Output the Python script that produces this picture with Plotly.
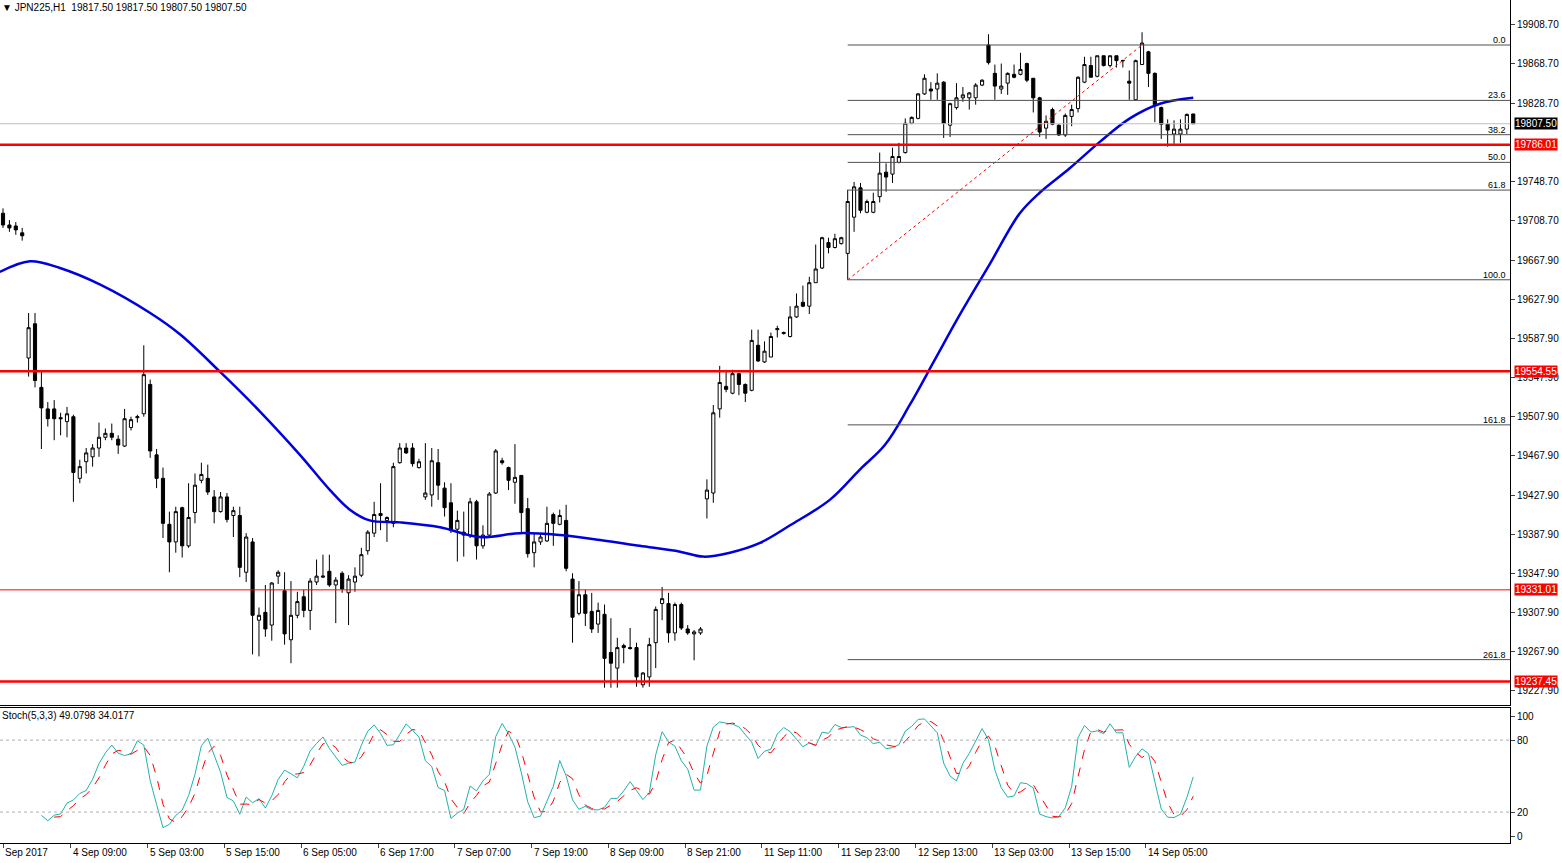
import pandas as pd
import numpy as np
import plotly.graph_objects as go

# JPN225 H1 candles (open, high, low, close)
opens = [19716, 19704, 19703, 19696, 19568, 19603, 19538, 19516, 19516, 19507,
         19503, 19508, 19445, 19462, 19467, 19476, 19487, 19491, 19485, 19478,
         19497, 19507, 19511, 19541, 19469, 19445, 19398, 19380, 19415, 19376,
         19410, 19443, 19445, 19426, 19411, 19426, 19407, 19407, 19349, 19380,
         19300, 19308, 19295, 19345, 19330, 19280, 19305, 19324, 19310, 19339,
         19344, 19350, 19336, 19348, 19328, 19339, 19346, 19371, 19389, 19409,
         19402, 19399, 19461, 19476, 19476, 19456, 19426, 19428, 19461, 19435,
         19420, 19393, 19390, 19387, 19421, 19376, 19387, 19430, 19463, 19456,
         19441, 19448, 19414, 19369, 19380, 19381, 19408, 19398, 19402, 19342,
         19307, 19326, 19309, 19296, 19306, 19267, 19251, 19274, 19272, 19272,
         19234, 19242, 19277, 19317, 19317, 19287, 19316, 19291, 19286, 19287,
         19424, 19430, 19516, 19539, 19532, 19552, 19541, 19535, 19581, 19564,
         19569, 19597, 19593, 19590, 19610, 19625, 19621, 19645, 19660, 19686,
         19681, 19685, 19675, 19712, 19742, 19717, 19717, 19733, 19758, 19756,
         19768, 19778, 19808, 19813, 19838, 19843, 19843, 19850, 19806, 19824,
         19834, 19834, 19834, 19847, 19888, 19859, 19843, 19849, 19858, 19858,
         19869, 19854, 19834, 19803, 19822, 19806, 19796, 19815, 19823, 19850,
         19867, 19856, 19877, 19867, 19877, 19872, 19851, 19832, 19868, 19881,
         19859, 19824, 19807, 19797, 19797, 19802, 19817.5]
highs = [19721, 19709, 19707, 19701, 19614, 19614, 19554, 19523, 19525, 19512,
         19518, 19510, 19464, 19476, 19480, 19502, 19496, 19501, 19489, 19516,
         19508, 19510, 19581, 19546, 19475, 19456, 19411, 19416, 19416, 19440,
         19450, 19461, 19459, 19433, 19431, 19430, 19416, 19416, 19389, 19384,
         19313, 19336, 19339, 19351, 19349, 19340, 19329, 19331, 19343, 19362,
         19367, 19367, 19344, 19350, 19346, 19354, 19374, 19392, 19421, 19440,
         19406, 19461, 19481, 19481, 19481, 19465, 19481, 19476, 19475, 19441,
         19440, 19412, 19411, 19425, 19423, 19397, 19431, 19475, 19466, 19457,
         19480, 19448, 19425, 19389, 19389, 19416, 19410, 19413, 19418, 19348,
         19340, 19331, 19328, 19318, 19316, 19302, 19282, 19276, 19292, 19277,
         19247, 19282, 19314, 19334, 19328, 19318, 19318, 19295, 19290, 19293,
         19444, 19520, 19560, 19556, 19556, 19553, 19542, 19597, 19597, 19585,
         19594, 19601, 19595, 19621, 19634, 19642, 19651, 19684, 19692, 19691,
         19695, 19692, 19740, 19748, 19747, 19730, 19737, 19778, 19767, 19783,
         19788, 19813, 19815, 19839, 19858, 19850, 19859, 19851, 19829, 19849,
         19845, 19840, 19849, 19853, 19899, 19868, 19869, 19860, 19868, 19880,
         19870, 19854, 19835, 19816, 19824, 19807, 19818, 19827, 19856, 19876,
         19876, 19877, 19877, 19877, 19877, 19873, 19862, 19873, 19901, 19882,
         19860, 19825, 19812, 19811, 19812, 19818, 19817.5]
lows = [19701, 19697, 19694, 19688, 19549, 19538, 19475, 19498, 19484, 19489,
        19487, 19421, 19440, 19450, 19457, 19467, 19484, 19484, 19470, 19477,
        19494, 19502, 19508, 19466, 19435, 19384, 19349, 19369, 19364, 19374,
        19399, 19440, 19428, 19399, 19410, 19400, 19385, 19344, 19339, 19265,
        19263, 19283, 19279, 19337, 19275, 19256, 19302, 19303, 19290, 19336,
        19343, 19334, 19297, 19328, 19295, 19329, 19344, 19367, 19385, 19392,
        19380, 19395, 19460, 19470, 19457, 19455, 19423, 19416, 19423, 19406,
        19389, 19360, 19365, 19384, 19362, 19373, 19385, 19429, 19459, 19433,
        19419, 19389, 19364, 19354, 19377, 19380, 19376, 19397, 19350, 19277,
        19305, 19294, 19287, 19287, 19231, 19231, 19231, 19256, 19270, 19232,
        19231, 19232, 19251, 19300, 19277, 19279, 19290, 19285, 19259, 19285,
        19404, 19420, 19507, 19533, 19531, 19530, 19523, 19534, 19564, 19563,
        19569, 19589, 19592, 19589, 19609, 19620, 19613, 19645, 19659, 19675,
        19680, 19684, 19648, 19697, 19716, 19716, 19716, 19727, 19738, 19747,
        19767, 19777, 19807, 19812, 19837, 19832, 19832, 19793, 19794, 19822,
        19830, 19822, 19827, 19846, 19868, 19832, 19838, 19837, 19854, 19857,
        19850, 19819, 19794, 19792, 19806, 19795, 19794, 19805, 19819, 19849,
        19855, 19855, 19866, 19865, 19865, 19865, 19832, 19831, 19868, 19845,
        19809, 19792, 19784, 19787, 19788, 19797, 19807.5]
closes = [19704, 19701, 19699, 19693, 19599, 19545, 19517, 19506, 19506, 19506,
          19511, 19451, 19457, 19471, 19476, 19487, 19491, 19487, 19479, 19506,
          19505, 19508, 19551, 19473, 19445, 19399, 19380, 19411, 19376, 19405,
          19438, 19449, 19431, 19411, 19426, 19403, 19412, 19354, 19385, 19305,
          19305, 19291, 19338, 19349, 19286, 19305, 19319, 19310, 19340, 19345,
          19345, 19336, 19341, 19332, 19342, 19345, 19367, 19390, 19408, 19407,
          19405, 19457, 19476, 19471, 19460, 19462, 19430, 19463, 19438, 19415,
          19392, 19402, 19387, 19421, 19376, 19387, 19429, 19473, 19461, 19443,
          19446, 19410, 19368, 19380, 19385, 19399, 19399, 19407, 19353, 19303,
          19326, 19307, 19291, 19310, 19261, 19256, 19272, 19272, 19271, 19242,
          19246, 19275, 19311, 19322, 19287, 19316, 19292, 19287, 19288, 19291,
          19433, 19512, 19543, 19536, 19552, 19541, 19532, 19586, 19565, 19575,
          19590, 19598, 19594, 19610, 19621, 19621, 19645, 19659, 19691, 19681,
          19690, 19691, 19728, 19743, 19719, 19728, 19728, 19757, 19753, 19774,
          19774, 19808, 19814, 19838, 19854, 19841, 19849, 19808, 19828, 19834,
          19837, 19839, 19847, 19852, 19870, 19846, 19846, 19859, 19855, 19863,
          19852, 19834, 19799, 19810, 19807, 19796, 19816, 19822, 19855, 19868,
          19855, 19877, 19867, 19877, 19872, 19872, 19849, 19872, 19890, 19859,
          19827, 19807, 19801, 19802, 19802, 19817, 19807.5]

# moving average (blue), read at bar positions
ma_bar = [-0.5, 4.2, 8.9, 15.2, 23, 27.7, 33.9, 40.2, 46.4, 51.1, 54.2, 57.3, 62,
          68.3, 74.5, 80.8, 87, 93.3, 99.5, 105.8, 109.4, 113.6, 118.3, 123, 129.2,
          133.9, 137.8, 141.7, 145.6, 149.5, 154.2, 158.9, 162, 166.7, 171.4, 176.1,
          180.8, 186]
ma_val = [19656, 19667, 19660, 19643, 19614, 19592, 19554, 19513, 19469, 19433,
          19413, 19402, 19400, 19395, 19385, 19389, 19387, 19382, 19376, 19370,
          19365, 19369, 19379, 19397, 19423, 19454, 19479, 19520, 19566, 19612,
          19664, 19716, 19737, 19762, 19789, 19813, 19828, 19834]

red_levels = [19786.01, 19554.55, 19331.01, 19237.45]
red_widths = [2.5, 2.5, 1, 2.5]
fib_names = ["0.0", "23.6", "38.2", "50.0", "61.8", "100.0", "161.8", "261.8"]
fib_ratios = [0, 0.236, 0.382, 0.5, 0.618, 1.0, 1.618, 2.618]
fib_high, fib_low = 19888, 19648
fib_start = 132
trend_bars = [132, 178]
trend_vals = [19648, 19888]

price_ticks = [19908.7, 19868.7, 19828.7, 19748.7, 19708.7, 19667.9, 19627.9, 19587.9,
               19547.9, 19507.9, 19467.9, 19427.9, 19387.9, 19347.9, 19307.9, 19267.9, 19227.9]
time_labels = ["Sep 2017", "4 Sep 09:00", "5 Sep 03:00", "5 Sep 15:00", "6 Sep 05:00",
               "6 Sep 17:00", "7 Sep 07:00", "7 Sep 19:00", "8 Sep 09:00", "8 Sep 21:00",
               "11 Sep 11:00", "11 Sep 23:00", "12 Sep 13:00", "13 Sep 03:00",
               "13 Sep 15:00", "14 Sep 05:00"]
time_pos = [0] + [10.6 + 12 * k for k in range(15)]

bars = list(range(len(closes)))
df = pd.DataFrame({"o": opens, "h": highs, "l": lows, "c": closes})
ll = df.l.rolling(5).min()
hh = df.h.rolling(5).max()
k = (df.c - ll).rolling(3).sum() / (hh - ll).rolling(3).sum() * 100
d = k.rolling(3).mean()

font = dict(family="Liberation Sans, Arial", size=10, color="black")
xr = [-0.47, 235.5]

fig = go.Figure()
fig.add_trace(go.Candlestick(
    x=bars, open=opens, high=highs, low=lows, close=closes,
    increasing=dict(line=dict(color="black", width=1), fillcolor="white"),
    decreasing=dict(line=dict(color="black", width=1), fillcolor="black"),
    whiskerwidth=0, showlegend=False, hoverinfo="skip"))
fig.add_trace(go.Scatter(x=ma_bar, y=ma_val, mode="lines", line=dict(color="#0000dd", width=2.5, shape="spline"),
                         showlegend=False))
for lvl, w in zip(red_levels, red_widths):
    fig.add_hline(y=lvl, line=dict(color="#ff0000", width=w), xref="x", yref="y")
fig.add_hline(y=closes[-1], line=dict(color="#c0c0c0", width=1))
for name, r in zip(fib_names, fib_ratios):
    v = fib_high - r * (fib_high - fib_low)
    fig.add_shape(type="line", x0=fib_start, x1=xr[1], y0=v, y1=v, xref="x", yref="y",
                  line=dict(color="#505050", width=1))
    fig.add_annotation(x=xr[1] - 0.3, y=v, text=name, showarrow=False, xanchor="right",
                       yanchor="bottom", font=dict(family="Liberation Sans", size=9), yshift=-2)
fig.add_trace(go.Scatter(x=trend_bars, y=trend_vals, mode="lines",
                         line=dict(color="#ff0000", width=1, dash="dot"), showlegend=False))

fig.add_trace(go.Scatter(x=bars, y=k, mode="lines", line=dict(color="#20b2aa", width=1),
                         showlegend=False, xaxis="x2", yaxis="y2"))
fig.add_trace(go.Scatter(x=bars, y=d, mode="lines", line=dict(color="#ff0000", width=1, dash="dash"),
                         showlegend=False, xaxis="x2", yaxis="y2"))
for lv in [80, 20]:
    fig.add_shape(type="line", x0=xr[0], x1=xr[1], y0=lv, y1=lv, xref="x2", yref="y2",
                  line=dict(color="#b0b0b0", width=1, dash="dot"))

# right-axis price boxes
for lvl in red_levels:
    fig.add_annotation(x=1.0, xref="paper", y=lvl, yref="y", text="%.2f" % lvl, showarrow=False,
                       xanchor="left", bgcolor="#ff0000", font=dict(family="Liberation Sans", size=10, color="white"),
                       borderpad=0, xshift=4)
fig.add_annotation(x=1.0, xref="paper", y=closes[-1], yref="y", text="%.2f" % closes[-1], showarrow=False,
                   xanchor="left", bgcolor="black", font=dict(family="Liberation Sans", size=10, color="white"),
                   borderpad=0, xshift=4)

for t, p in zip(time_labels, time_pos):
    fig.add_annotation(x=p, xref="x2", y=0, yref="paper", text=t, showarrow=False, xanchor="left",
                       yanchor="top", yshift=-2, font=font)

fig.add_annotation(x=0, y=1, xref="paper", yref="paper", xanchor="left", yanchor="top",
                   text="▼ JPN225,H1  19817.50 19817.50 19807.50 19807.50", showarrow=False, font=font)
fig.add_annotation(x=0, y=0.16, xref="paper", yref="paper", xanchor="left", yanchor="top",
                   text="Stoch(5,3,3) 49.0798 34.0177", showarrow=False, font=font)

fig.update_layout(
    width=1562, height=863, margin=dict(l=0, r=52, t=0, b=20),
    paper_bgcolor="white", plot_bgcolor="white", font=font,
    xaxis=dict(range=xr, domain=[0, 1], showgrid=False, showticklabels=False, rangeslider=dict(visible=False),
               showline=True, linecolor="black", mirror=True, zeroline=False, anchor="y"),
    yaxis=dict(range=[19213.3, 19934], domain=[0.1637, 1], side="right", tickvals=price_ticks,
               ticktext=["%.2f" % v for v in price_ticks], showgrid=False, ticks="outside", ticklen=4,
               showline=True, linecolor="black", mirror=True, zeroline=False),
    xaxis2=dict(range=xr, domain=[0, 1], showgrid=False, showticklabels=False, anchor="y2",
                showline=True, linecolor="black", mirror=True, zeroline=False,
                ticks="outside", ticklen=4, tickvals=time_pos),
    yaxis2=dict(range=[-5.8, 106.7], domain=[0, 0.16], side="right", anchor="x2", tickvals=[0, 20, 80, 100],
                showgrid=False, ticks="outside", ticklen=4, showline=True, linecolor="black", mirror=True,
                zeroline=False),
)
fig.write_html("out.html", config={"displayModeBar": False},
               post_script="document.body.style.margin='0';document.body.style.overflow='hidden';")
